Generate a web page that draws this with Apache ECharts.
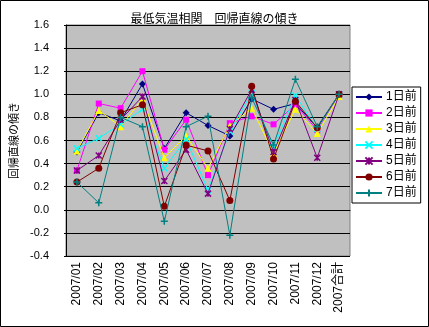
<!DOCTYPE html>
<html>
<head>
<meta charset="utf-8">
<script src="https://cdn.jsdelivr.net/npm/echarts@6/dist/echarts.min.js"></script>
<style>
  html, body { margin: 0; padding: 0; background: #fff; }
  #chart { width: 429px; height: 327px; }
</style>
</head>
<body>
<div id="chart"></div>
<script>
// Months of 2007 plus the yearly total
const categories = ['2007/01', '2007/02', '2007/03', '2007/04', '2007/05', '2007/06',
  '2007/07', '2007/08', '2007/09', '2007/10', '2007/11', '2007/12', '2007合計'];

// Regression slope per lag (days before)
const lag1 = [0.50, 0.84, 0.77, 1.09, 0.53, 0.84, 0.73, 0.64, 0.96, 0.87, 0.92, 0.71, 1.00];
const lag2 = [0.34, 0.92, 0.88, 1.20, 0.52, 0.78, 0.30, 0.75, 0.81, 0.74, 0.91, 0.69, 1.00];
const lag3 = [0.51, 0.86, 0.72, 0.96, 0.45, 0.64, 0.36, 0.73, 0.88, 0.49, 0.87, 0.66, 0.98];
const lag4 = [0.53, 0.62, 0.74, 0.87, 0.36, 0.61, 0.17, 0.68, 1.01, 0.54, 0.99, 0.70, 1.00];
const lag5 = [0.34, 0.47, 0.78, 0.98, 0.25, 0.52, 0.14, 0.70, 1.04, 0.50, 0.95, 0.45, 1.00];
const lag6 = [0.24, 0.36, 0.84, 0.91, 0.03, 0.56, 0.51, 0.08, 1.07, 0.44, 0.94, 0.71, 1.00];
const lag7 = [0.24, 0.06, 0.80, 0.72, -0.10, 0.72, 0.81, -0.22, 0.97, 0.56, 1.13, 0.72, 1.00];

const seriesNames = ['1日前', '2日前', '3日前', '4日前', '5日前', '6日前', '7日前'];
const yTicks = { min: -0.4, max: 1.6, interval: 0.2 };

const colors = ['#000080', '#FF00FF', '#FFFF00', '#00FFFF', '#800080', '#800000', '#008080'];
const symbols = [
  'diamond',
  'rect',
  'triangle',
  'path://M0,0L10,10M10,0L0,10',
  'path://M0,0L10,10M10,0L0,10M5,0L5,10',
  'circle',
  'path://M5,0L5,10M0,5L10,5'
];
const sizes = [7, 6, 7, 6, 6, 7, 7];
const seriesData = [lag1, lag2, lag3, lag4, lag5, lag6, lag7];

const FONT = '"Liberation Sans", "Noto Sans CJK JP", sans-serif';
const chart = echarts.init(document.getElementById('chart'), null, { renderer: 'canvas' });

chart.setOption({
  animation: false,
  backgroundColor: '#ffffff',
  title: {
    text: '最低気温相関\u3000回帰直線の傾き',
    left: 'center',
    top: 7,
    textStyle: { fontFamily: '"Noto Sans CJK JP", sans-serif', fontSize: 12, fontWeight: 'normal', color: '#000' }
  },
  graphic: [{
    type: 'rect',
    shape: { x: 0.5, y: 0.5, width: 428, height: 326 },
    style: { fill: 'none', stroke: '#000', lineWidth: 1 },
    silent: true
  }],
  legend: {
    orient: 'vertical',
    left: 352,
    top: 87,
    padding: [4, 4, 4, 3],
    itemGap: 4,
    itemWidth: 26,
    itemHeight: 9,
    backgroundColor: '#ffffff',
    borderColor: '#000',
    borderWidth: 1,
    borderRadius: 0,
    textStyle: { fontFamily: FONT, fontSize: 12, color: '#000', padding: [0, 0, 0, -1] },
    data: seriesNames
  },
  grid: {
    left: 58, right: 79, top: 25, bottom: 71,
    show: true,
    backgroundColor: '#C0C0C0',
    borderColor: '#808080',
    borderWidth: 1
  },
  xAxis: {
    type: 'category',
    data: categories,
    boundaryGap: true,
    axisLine: { lineStyle: { color: '#000', width: 1 } },
    axisTick: { inside: true, length: 3, lineStyle: { color: '#000' } },
    axisLabel: {
      rotate: 90,
      margin: 6,
      interval: 0,
      fontFamily: FONT,
      fontSize: 12,
      color: '#000'
    },
    splitLine: { show: false }
  },
  yAxis: {
    type: 'value',
    min: yTicks.min,
    max: yTicks.max,
    interval: yTicks.interval,
    name: '回帰直線の傾き',
    nameLocation: 'middle',
    nameRotate: 90,
    nameGap: 37,
    nameTextStyle: { fontFamily: '"Noto Sans CJK JP", sans-serif', fontSize: 11, color: '#000', padding: [0, 0, 10, 0] },
    axisLine: { show: true, lineStyle: { color: '#000', width: 1 } },
    axisTick: { show: true, length: 2, lineStyle: { color: '#000' } },
    axisLabel: {
      margin: 17,
      fontFamily: FONT,
      fontSize: 11,
      color: '#000',
      formatter: v => v.toFixed(1)
    },
    splitLine: { show: true, lineStyle: { color: '#000', width: 1 } }
  },
  series: seriesData.map((d, i) => ({
    name: seriesNames[i],
    type: 'line',
    data: d,
    symbol: symbols[i],
    symbolSize: sizes[i],
    symbolKeepAspect: true,
    showAllSymbol: true,
    lineStyle: { color: colors[i], width: 1 },
    itemStyle: { color: colors[i], borderColor: colors[i], borderWidth: i === 3 || i === 4 || i === 6 ? 1.5 : 0 },
    emphasis: { disabled: true },
    z: 2 + i
  }))
});
</script>
</body>
</html>
